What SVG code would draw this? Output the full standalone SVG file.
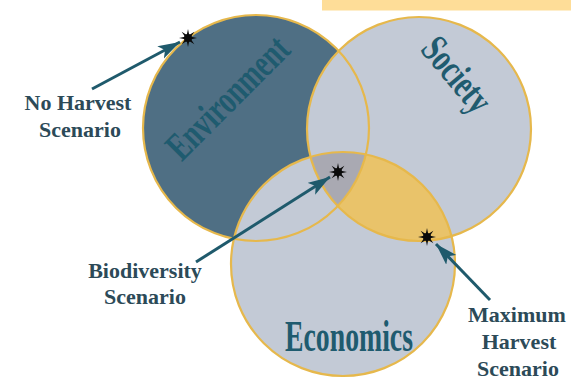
<svg xmlns="http://www.w3.org/2000/svg" width="584" height="385" viewBox="0 0 584 385">
<style>
.lbl{font-family:"Liberation Serif","Times New Roman",serif;font-weight:bold;font-size:22px;fill:#2c4a58;text-anchor:middle}
.big{font-family:"Liberation Serif","Times New Roman",serif;font-weight:bold;fill:#1f5b6f;text-anchor:middle}
.ring{fill:none;stroke:#e6b84c;stroke-width:2.2}
.arr{fill:none;stroke:#1f5a6c;stroke-width:3;marker-end:url(#head)}
</style>
<defs>
<clipPath id="cSoc"><circle cx="419" cy="129" r="112"/></clipPath>
<clipPath id="cEnv"><circle cx="256" cy="128" r="113"/></clipPath>
<marker id="head" markerUnits="userSpaceOnUse" markerWidth="24" markerHeight="16" refX="22" refY="7" orient="auto">
<path d="M0,0 L22,7 L0,14 L5,7 z" fill="#1f5a6c"/>
</marker>
<g id="star">
<polygon points="9,0 2.96,1.22 6.36,6.36 1.22,2.96 0,9 -1.22,2.96 -6.36,6.36 -2.96,1.22 -9,0 -2.96,-1.22 -6.36,-6.36 -1.22,-2.96 0,-9 1.22,-2.96 6.36,-6.36 2.96,-1.22" fill="#0a0a0a"/>
<circle r="4" fill="#0a0a0a"/>
</g>
</defs>
<rect x="322" y="0" width="249" height="10.5" fill="#fedd98"/>
<g id="environment">
<circle cx="256" cy="128" r="113" fill="#4f6f84"/>
</g>
<g id="society">
<circle cx="419" cy="129" r="112" fill="#c3cad6"/>
</g>
<g id="economics">
<circle cx="343" cy="264" r="112" fill="#c3cad6"/>
</g>
<g id="overlaps">
<circle cx="343" cy="264" r="112" fill="#e9c36a" clip-path="url(#cSoc)"/>
<g clip-path="url(#cEnv)"><circle cx="343" cy="264" r="112" fill="#a9a9b2" clip-path="url(#cSoc)"/></g>
</g>
<g id="outlines">
<circle class="ring" cx="256" cy="128" r="113"/>
<circle class="ring" cx="419" cy="129" r="112"/>
<circle class="ring" cx="343" cy="264" r="112"/>
</g>
<g id="circle-labels">
<text class="big" font-size="40" textLength="156" lengthAdjust="spacingAndGlyphs" transform="translate(237,107) rotate(-45)">Environment</text>
<text class="big" font-size="40" textLength="86" lengthAdjust="spacingAndGlyphs" transform="translate(447,83) rotate(50)">Society</text>
<text class="big" font-size="45" textLength="128" lengthAdjust="spacingAndGlyphs" x="349" y="351">Economics</text>
</g>
<g id="connectors">
<line class="arr" x1="92" y1="89" x2="180" y2="42"/>
<line class="arr" x1="196" y1="262" x2="330" y2="177"/>
<line class="arr" x1="490" y1="300" x2="436" y2="244"/>
</g>
<g id="stars">
<use href="#star" x="188" y="38"/>
<use href="#star" x="338" y="172"/>
<use href="#star" x="427" y="237"/>
</g>
<g id="no-harvest">
<text class="lbl" x="78" y="110">No Harvest</text>
<text class="lbl" x="80" y="137">Scenario</text>
</g>
<g id="biodiversity">
<text class="lbl" x="145" y="278">Biodiversity</text>
<text class="lbl" x="145" y="304">Scenario</text>
</g>
<g id="maximum-harvest">
<text class="lbl" x="517" y="322">Maximum</text>
<text class="lbl" x="519" y="349">Harvest</text>
<text class="lbl" x="518" y="376">Scenario</text>
</g>
</svg>
